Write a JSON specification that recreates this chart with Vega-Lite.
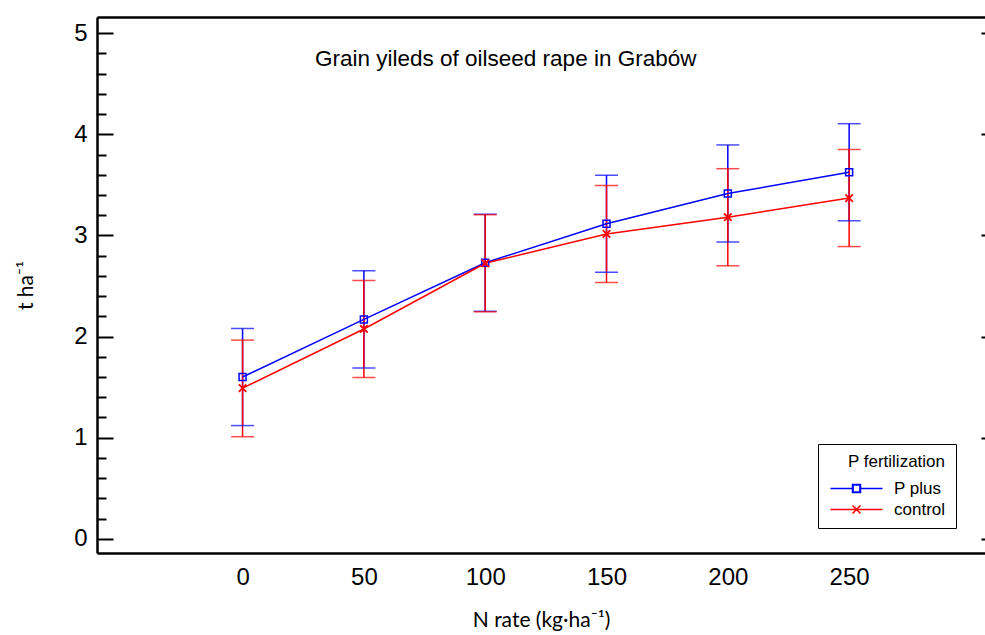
{
  "$schema": "https://vega.github.io/schema/vega-lite/v6.json",
  "autosize": {"type": "none"},
  "width": 888,
  "height": 536,
  "padding": {"left": 97, "top": 17, "right": 0, "bottom": 82},
  "background": "white",
  "config": {
    "view": {"stroke": null},
    "font": "Liberation Sans",
    "legend": {
      "orient": "none", "legendX": 721, "legendY": 427,
      "titleFont": "Liberation Sans", "titleFontSize": 17,
      "titleFontWeight": "normal", "titleColor": "black", "titleAnchor": "end",
      "titlePadding": 9,
      "labelFont": "Liberation Sans", "labelFontSize": 17, "labelColor": "black",
      "strokeColor": "black", "fillColor": "white", "padding": 10,
      "symbolSize": 64, "symbolOffset": 20, "labelOffset": 29, "rowPadding": 3,
      "symbolFillColor": "transparent", "symbolOpacity": 1, "symbolStrokeWidth": 1.5
    }
  },
  "title": {
    "text": "Grain yileds of oilseed rape in Grabów",
    "anchor": "start",
    "frame": "group",
    "font": "Liberation Sans",
    "fontSize": 22.5,
    "fontWeight": "normal",
    "color": "black",
    "baseline": "alphabetic",
    "offset": 0,
    "dx": 218,
    "dy": 71
  },
  "data": {
    "values": [
      {"N": 0, "P": "P plus", "mean": 1.6, "lo": 1.12, "hi": 2.08},
      {"N": 50, "P": "P plus", "mean": 2.17, "lo": 1.69, "hi": 2.65},
      {"N": 100, "P": "P plus", "mean": 2.73, "lo": 2.25, "hi": 3.21},
      {"N": 150, "P": "P plus", "mean": 3.115, "lo": 2.635, "hi": 3.595},
      {"N": 200, "P": "P plus", "mean": 3.415, "lo": 2.935, "hi": 3.895},
      {"N": 250, "P": "P plus", "mean": 3.625, "lo": 3.145, "hi": 4.105},
      {"N": 0, "P": "control", "mean": 1.49, "lo": 1.01, "hi": 1.965},
      {"N": 50, "P": "control", "mean": 2.075, "lo": 1.595, "hi": 2.555},
      {"N": 100, "P": "control", "mean": 2.725, "lo": 2.245, "hi": 3.205},
      {"N": 150, "P": "control", "mean": 3.015, "lo": 2.535, "hi": 3.495},
      {"N": 200, "P": "control", "mean": 3.18, "lo": 2.7, "hi": 3.66},
      {"N": 250, "P": "control", "mean": 3.37, "lo": 2.89, "hi": 3.85}
    ]
  },
  "resolve": {"axis": {"x": "independent", "y": "independent"}},
  "layer": [
    {
      "mark": {"type": "point", "filled": false, "opacity": 0, "strokeWidth": 1.5},
      "encoding": {
        "x": {
          "field": "N", "type": "quantitative",
          "scale": {"domain": [-60, 306], "nice": false, "zero": false},
          "axis": {
            "orient": "bottom", "values": [0, 50, 100, 150, 200, 250],
            "ticks": false, "grid": false, "domainColor": "black", "domainWidth": 2.5,
            "labelFont": "Liberation Sans", "labelFontSize": 24, "labelColor": "black",
            "labelPadding": 12, "labelFlush": false, "labelOverlap": false,
            "title": "N rate (kg·ha⁻¹)", "titleFont": "Lato", "titleFontSize": 21,
            "titleFontWeight": "normal", "titleColor": "black", "titlePadding": 20
          }
        },
        "y": {
          "field": "mean", "type": "quantitative",
          "scale": {"domain": [-0.14, 5.16], "nice": false, "zero": false},
          "axis": {
            "orient": "left",
            "values": [0, 0.2, 0.4, 0.6, 0.8, 1, 1.2, 1.4, 1.6, 1.8, 2, 2.2, 2.4, 2.6, 2.8, 3, 3.2, 3.4, 3.6, 3.8, 4, 4.2, 4.4, 4.6, 4.8, 5],
            "grid": false, "domainColor": "black", "domainWidth": 2.5,
            "tickColor": "black", "tickWidth": 2,
            "tickSize": {"condition": {"test": "datum.value % 1 === 0", "value": -16}, "value": -9},
            "labelExpr": "datum.value % 1 === 0 ? format(datum.value, 'd') : ''",
            "labelFont": "Liberation Sans", "labelFontSize": 24, "labelColor": "black",
            "labelPadding": 26, "labelFlush": false, "labelOverlap": false,
            "title": "t ha⁻¹", "titleFont": "Lato", "titleFontSize": 21,
            "titleFontWeight": "normal", "titleColor": "black", "titlePadding": 37
          }
        },
        "color": {
          "field": "P", "type": "nominal",
          "scale": {"domain": ["P plus", "control"], "range": ["#0000ff", "#ff0000"]},
          "legend": {"title": "P fertilization"}
        },
        "shape": {
          "field": "P", "type": "nominal",
          "scale": {
            "domain": ["P plus", "control"],
            "range": [
              "M-6.5,0H-1M1,0H6.5M-1,-1H1V1H-1ZM-0.85,-0.85V0.85H0.85V-0.85Z",
              "M-6.5,0H6.5M-1,-1L1,1M-1,1L1,-1"
            ]
          },
          "legend": {"title": "P fertilization"}
        }
      }
    },
    {
      "mark": {"type": "rule", "strokeWidth": 1.5},
      "encoding": {
        "x": {"field": "N", "type": "quantitative", "axis": null},
        "y": {"field": "lo", "type": "quantitative", "axis": null},
        "y2": {"field": "hi"},
        "color": {"field": "P", "type": "nominal", "legend": null}
      }
    },
    {
      "mark": {"type": "tick", "orient": "horizontal", "size": 23, "thickness": 1.5},
      "encoding": {
        "x": {
          "field": "N", "type": "quantitative",
          "axis": {
            "orient": "top", "labels": false, "ticks": false, "grid": false,
            "domainColor": "black", "domainWidth": 2.5, "title": null
          }
        },
        "y": {
          "field": "hi", "type": "quantitative",
          "axis": {
            "orient": "right", "values": [0, 1, 2, 3, 4, 5], "labels": false,
            "domain": false, "grid": false, "tickColor": "black", "tickWidth": 2,
            "tickSize": -4, "title": null
          }
        },
        "color": {"field": "P", "type": "nominal", "legend": null}
      }
    },
    {
      "mark": {"type": "tick", "orient": "horizontal", "size": 23, "thickness": 1.5},
      "encoding": {
        "x": {"field": "N", "type": "quantitative", "axis": null},
        "y": {"field": "lo", "type": "quantitative", "axis": null},
        "color": {"field": "P", "type": "nominal", "legend": null}
      }
    },
    {
      "mark": {"type": "line", "strokeWidth": 1.5},
      "encoding": {
        "x": {"field": "N", "type": "quantitative", "axis": null},
        "y": {"field": "mean", "type": "quantitative", "axis": null},
        "color": {"field": "P", "type": "nominal", "legend": null}
      }
    },
    {
      "transform": [{"filter": "datum.P === 'P plus'"}],
      "mark": {"type": "point", "shape": "square", "filled": false, "size": 49, "strokeWidth": 1.5, "opacity": 1, "color": "#0000ff"},
      "encoding": {
        "x": {"field": "N", "type": "quantitative", "axis": null},
        "y": {"field": "mean", "type": "quantitative", "axis": null}
      }
    },
    {
      "transform": [{"filter": "datum.P === 'control'"}],
      "mark": {"type": "point", "shape": "M-1,-1L1,1M-1,1L1,-1", "filled": false, "size": 56, "strokeWidth": 1.8, "opacity": 1, "color": "#ff0000"},
      "encoding": {
        "x": {"field": "N", "type": "quantitative", "axis": null},
        "y": {"field": "mean", "type": "quantitative", "axis": null}
      }
    }
  ]
}
